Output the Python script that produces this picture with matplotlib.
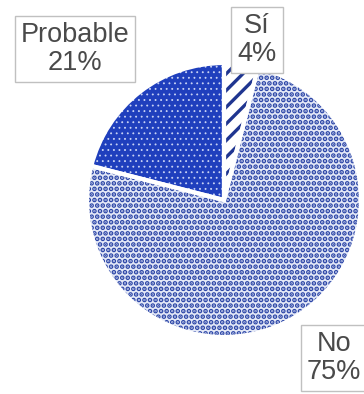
import matplotlib.pyplot as plt

# data, clockwise from the top
labels = ['Sí', 'No', 'Probable']
pcts = [4, 75, 21]

faces = ['white', '#e3e8f7', '#1f3fbd']
hatch_cols = ['#1f3590', '#2a44a6', '#c9d3f5']
hatches = ['//', '...', '...']
hatch_lws = [2.4, 2.4, 0.6]

plt.rcParams['font.family'] = ['Liberation Sans', 'DejaVu Sans']
plt.rcParams['hatch.linewidth'] = 1.6

fig = plt.figure(figsize=(3.64, 3.94), dpi=100)
ax = fig.add_axes([0.239, 0.1447, 0.7527, 0.6954])

wedges, _ = ax.pie(pcts, startangle=90, counterclock=False, radius=1)
for w, fc, hc, h, hl in zip(wedges, faces, hatch_cols, hatches, hatch_lws):
    w.set_facecolor(fc)
    w.set_edgecolor(hc)
    w.set_linewidth(0)
    w.set_hatch(h)
    if hasattr(w, 'set_hatch_linewidth'):
        w.set_hatch_linewidth(hl)

# white separators between slices
ax.pie(pcts, startangle=90, counterclock=False, radius=1,
       wedgeprops=dict(fill=False, edgecolor='white', linewidth=3))

ax.set_xlim(-1, 1)
ax.set_ylim(-1, 1)
ax.set_aspect('equal')
ax.axis('off')

# label boxes (figure coordinates)
pos = {'Sí': (257 / 364, 1 - 40 / 394),
       'No': (334 / 364, 1 - 358 / 394),
       'Probable': (75 / 364, 1 - 49 / 394)}
for lab, p in zip(labels, pcts):
    x, y = pos[lab]
    fig.text(x, y, f'{lab}\n{p}%', ha='center', va='center',
             multialignment='center', fontsize=19.5, color='#4a4a4a',
             linespacing=1.1,
             bbox=dict(boxstyle='square,pad=0.22', facecolor='white',
                       edgecolor='#c0c0c0', linewidth=1))

fig.savefig('out.png', dpi=100)
